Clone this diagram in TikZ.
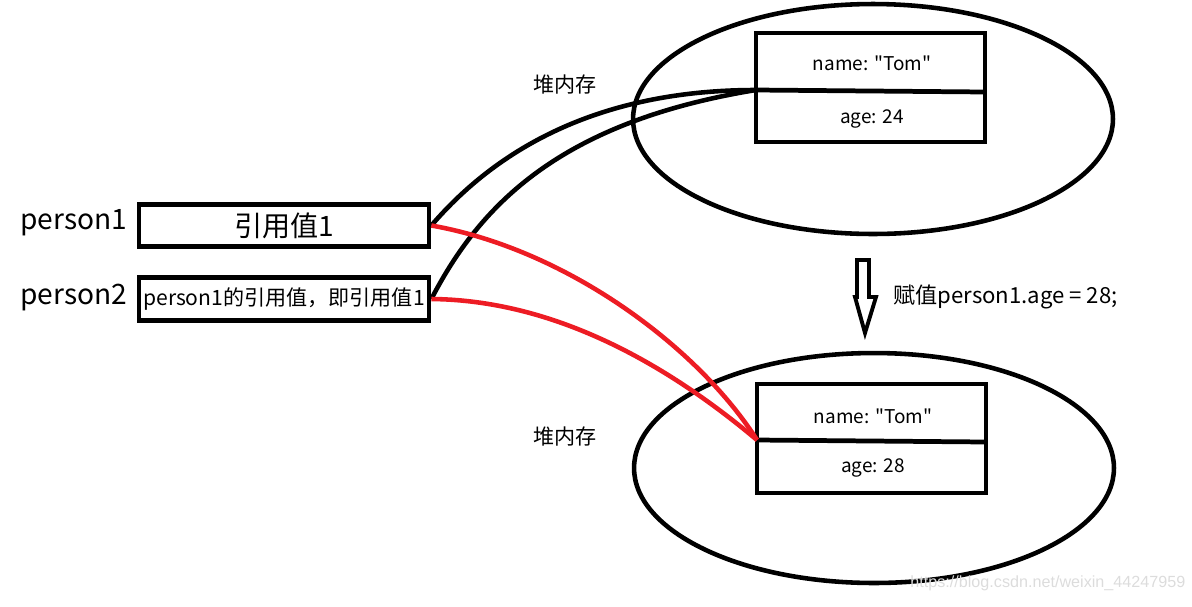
\documentclass[tikz,border=0pt]{standalone}
\usepackage{fontspec}
\setmainfont{Noto Sans CJK SC}[Ligatures=TeXOff]
\newfontfamily\wmfont{Liberation Sans}
\usetikzlibrary{shapes.geometric}
\definecolor{pred}{RGB}{237,28,36}
\definecolor{wmgray}{RGB}{220,220,220}
\begin{document}
\begin{tikzpicture}[x=0.02cm,y=-0.02cm,
  heap/.style={draw, ellipse, line width=2.6pt, minimum width=9.6cm, minimum height=4.6cm, inner sep=0pt},
  objbox/.style={draw, line width=2.7pt, minimum width=4.58cm, minimum height=2.18cm, inner sep=0pt},
  refbox/.style={draw, line width=2.7pt, minimum width=5.8cm, minimum height=0.85cm, inner sep=0pt},
  fieldtxt/.style={font=\fontsize{10.8}{12}\selectfont, inner sep=0pt},
  reflabel/.style={font=\fontsize{16}{18}\selectfont, inner sep=0pt, anchor=west},
  heaplabel/.style={font=\fontsize{12}{14}\selectfont, inner sep=0pt},
  blackref/.style={line width=2.6pt, black},
  redref/.style={line width=2.6pt, pred},
  divider/.style={line width=2.7pt}
]
\useasboundingbox (0,0) rectangle (1192,606);
% heaps
\node[heap] (heap1) at (873,119) {};
\node[heap] (heap2) at (874,468) {};
% objects
\node[objbox] (obj1) at (870.5,87.5) {};
\node[objbox] (obj2) at (871.5,438.5) {};
\coordinate (d1l) at (756,90);
\coordinate (d1r) at (985,92);
\coordinate (d2l) at (757,440);
\coordinate (d2r) at (986,442);
\draw[divider] (d1l) -- (d1r);
\draw[divider] (d2l) -- (d2r);
\node[fieldtxt] (n1) at (872,63) {name: "Tom"};
\node[fieldtxt] (a1) at (872,119) {age: 24};
\node[fieldtxt] (n2) at (873,416) {name: "Tom"};
\node[fieldtxt] (a2) at (873,468) {age: 28};
\node[heaplabel] (h1) at (565,85) {堆内存};
\node[heaplabel] (h2) at (565,436) {堆内存};
% references
\node[refbox] (p1) at (284,225.5) {\fontsize{16}{18}\selectfont 引用值1};
\node[refbox] (p2) at (284,299) {\fontsize{12}{14}\selectfont person1的引用值，即引用值1};
\node[reflabel] (l1) at (20,223) {person1};
\node[reflabel] (l2) at (20,298) {person2};
% connectors
\draw[blackref] (p1.east) .. controls (515,128) and (630,90) .. (d1l);
\draw[blackref] (p2.east) .. controls (480,205) and (560,122) .. (d1l);
\draw[redref] (p1.east) .. controls (570,250) and (700,350) .. (d2l);
\draw[redref] (p2.east) .. controls (540,300) and (650,350) .. (d2l);
% assignment arrow
\draw[line width=2.2pt, line join=miter] (857,260) -- (869,260) -- (869,297) -- (876,297) -- (865,333) -- (855,297) -- (857,297) -- cycle;
\node[heaplabel, font=\fontsize{12.6}{14}\selectfont, anchor=west] (assign) at (893,297) {赋值person1.age = 28;};
% watermark
\node[font=\wmfont\fontsize{9.2}{10}\selectfont, text=wmgray, anchor=west, inner sep=0pt] (wm) at (910,583) {https://blog.csdn.net/weixin\_44247959};
\end{tikzpicture}
\end{document}
